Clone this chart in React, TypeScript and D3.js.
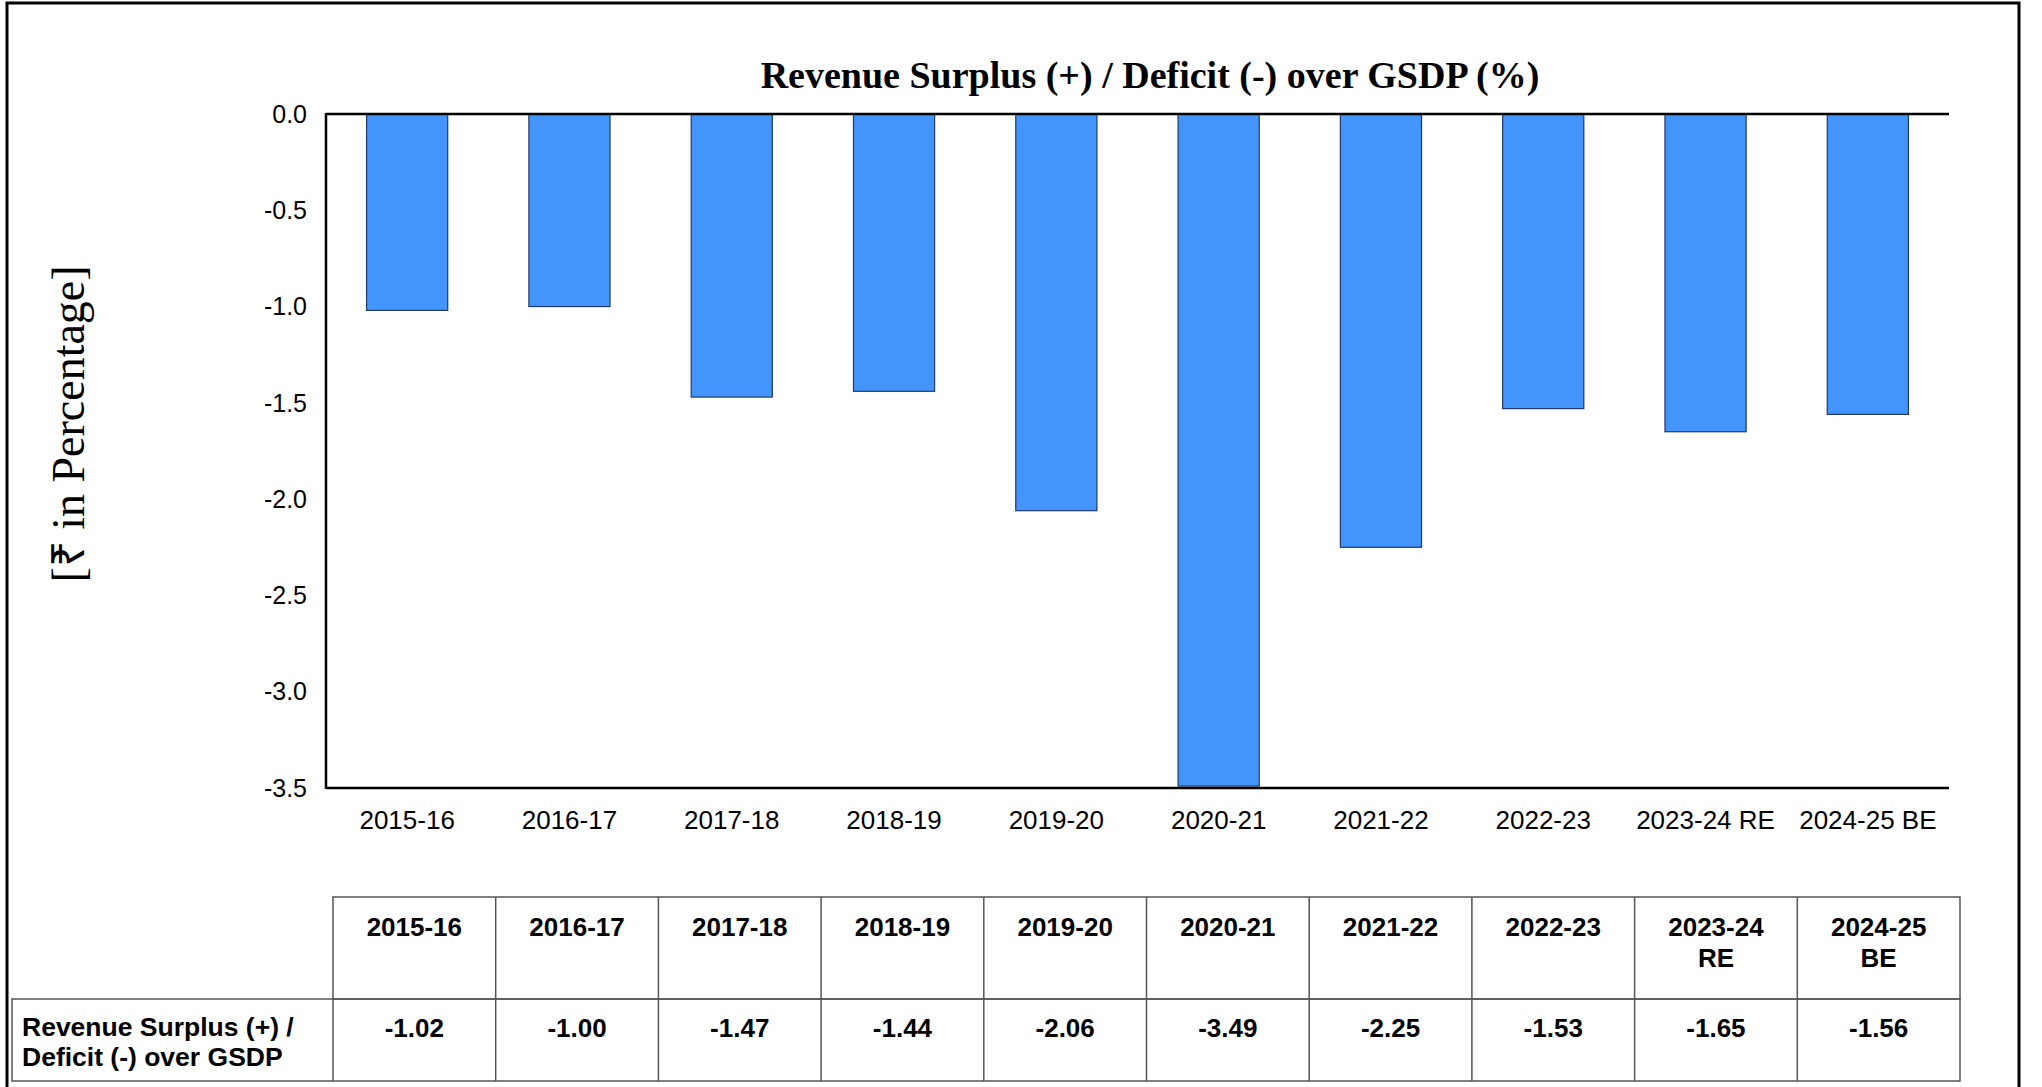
import React from 'react';
import * as d3 from 'd3';

const years = ['2015-16', '2016-17', '2017-18', '2018-19', '2019-20', '2020-21', '2021-22', '2022-23', '2023-24 RE', '2024-25 BE'];
const deficit = [-1.02, -1.0, -1.47, -1.44, -2.06, -3.49, -2.25, -1.53, -1.65, -1.56];
const yTicks = [0, -0.5, -1, -1.5, -2, -2.5, -3, -3.5];
const rowLabel = ['Revenue Surplus (+) /', 'Deficit (-) over GSDP'];

const W = 2042,
  H = 1087;
const sans = 'Liberation Sans, Arial, sans-serif';
const serif = 'Liberation Serif, Times New Roman, serif';

// d3 puts a unicode minus in, the source uses a plain hyphen
const fmt = (spec: string) => (v: number) => d3.format(spec)(v).replace('\u2212', '-');
const fmt1 = fmt('.1f');
const fmt2 = fmt('.2f');

const App = () => {
  const x = d3.scaleBand().domain(years).range([326, 1949]).paddingInner(0.5).paddingOuter(0.25);
  const y = d3.scaleLinear().domain([-3.5, 0]).range([788, 114]);
  const tx = d3.scaleBand().domain(years).range([333, 1960]);

  const headTop = 897,
    rowTop = 999,
    tableBottom = 1081;

  return (
    <div style={{ position: 'absolute', left: 0, top: 0 }}>
      <svg width={W} height={H} style={{ display: 'block', background: '#fff' }}>
        {/* outer frame */}
        <rect x={7} y={3} width={2012} height={1100} fill="none" stroke="#000" strokeWidth={3} />

        <text x={1150} y={88} textAnchor="middle" fontFamily={serif} fontWeight="bold" fontSize={38}>
          Revenue Surplus (+) / Deficit (-) over GSDP (%)
        </text>

        <text
          transform="translate(84,424) rotate(-90)"
          textAnchor="middle"
          fontFamily={serif}
          fontSize={46}
        >
          [₹ in Percentage]
        </text>

        {/* bars */}
        {deficit.map((v, i) => (
          <rect
            key={years[i]}
            x={x(years[i])}
            y={y(0)}
            width={x.bandwidth()}
            height={y(v) - y(0)}
            fill="#4394fd"
            stroke="#1f3a66"
            strokeWidth={1.2}
          />
        ))}

        {/* axes */}
        <line x1={326} x2={1949} y1={y(0)} y2={y(0)} stroke="#000" strokeWidth={2.5} />
        <line x1={326} x2={1949} y1={y(-3.5)} y2={y(-3.5)} stroke="#000" strokeWidth={2.5} />
        <line x1={326} x2={326} y1={y(0) - 1} y2={y(-3.5) + 1} stroke="#000" strokeWidth={2.5} />

        {yTicks.map((t) => (
          <text key={t} x={307} y={y(t)} dy="0.35em" textAnchor="end" fontFamily={sans} fontSize={25}>
            {fmt1(t)}
          </text>
        ))}

        {years.map((yr) => (
          <text
            key={yr}
            x={(x(yr) ?? 0) + x.bandwidth() / 2}
            y={829}
            textAnchor="middle"
            fontFamily={sans}
            fontSize={26}
          >
            {yr}
          </text>
        ))}

        {/* data table */}
        <g stroke="#555" strokeWidth={1.5} fill="none">
          <rect x={333} y={headTop} width={1960 - 333} height={rowTop - headTop} />
          <rect x={12} y={rowTop} width={1960 - 12} height={tableBottom - rowTop} />
          {years.slice(1).map((yr) => (
            <line key={yr} x1={tx(yr)} x2={tx(yr)} y1={headTop} y2={tableBottom} />
          ))}
          <line x1={333} x2={333} y1={rowTop} y2={tableBottom} />
        </g>

        {years.map((yr) => {
          const cx = (tx(yr) ?? 0) + tx.bandwidth() / 2;
          const parts = yr.split(' ');
          return (
            <text key={yr} textAnchor="middle" fontFamily={sans} fontWeight="bold" fontSize={26}>
              {parts.map((p, k) => (
                <tspan key={k} x={cx} y={936 + k * 31}>
                  {p}
                </tspan>
              ))}
            </text>
          );
        })}

        {deficit.map((v, i) => (
          <text
            key={years[i]}
            x={(tx(years[i]) ?? 0) + tx.bandwidth() / 2}
            y={1037}
            textAnchor="middle"
            fontFamily={sans}
            fontWeight="bold"
            fontSize={26}
          >
            {fmt2(v)}
          </text>
        ))}

        <text fontFamily={sans} fontWeight="bold" fontSize={26.5}>
          {rowLabel.map((l, k) => (
            <tspan key={k} x={22} y={1036 + k * 30}>
              {l}
            </tspan>
          ))}
        </text>
      </svg>
    </div>
  );
};

export default App;
